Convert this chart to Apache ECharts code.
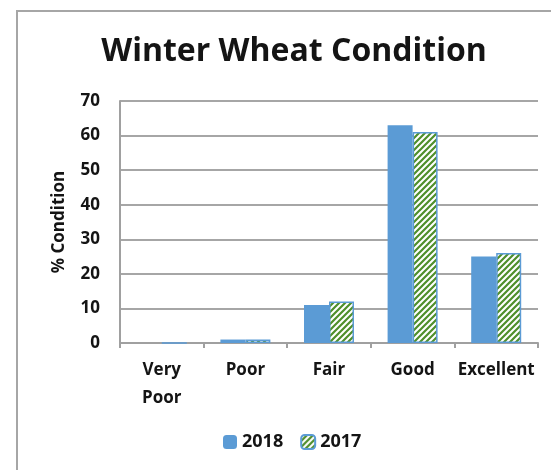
<!DOCTYPE html>
<html><head><meta charset="utf-8">
<script src="https://cdn.jsdelivr.net/npm/echarts@6/dist/echarts.min.js"></script>
<style>html,body{margin:0;padding:0;background:#fff}#c{width:551px;height:470px}</style>
</head><body><div id="c"></div>
<script>
const categories = ['Very\nPoor', 'Poor', 'Fair', 'Good', 'Excellent'];
const values2018 = [0, 1, 11, 63, 25];
const values2017 = [0, 1, 12, 61, 26];
const yTicks = [0, 10, 20, 30, 40, 50, 60, 70];

function makePattern() {
  const cv = document.createElement('canvas');
  cv.width = 6; cv.height = 6;
  const g = cv.getContext('2d');
  g.fillStyle = '#ffffff';
  g.fillRect(0, 0, 6, 6);
  g.strokeStyle = '#4f8f2b';
  g.lineWidth = 2.2;
  g.beginPath();
  g.moveTo(-1, 7); g.lineTo(7, -1);
  g.moveTo(-4, 4); g.lineTo(4, -4);
  g.moveTo(2, 10); g.lineTo(10, 2);
  g.stroke();
  return cv;
}
const pattern = {image: makePattern(), repeat: 'repeat'};
const txt = '#141414';
const ff = 'Open Sans';

const chart = echarts.init(document.getElementById('c'), null, {renderer: 'canvas'});
chart.setOption({
  animation: false,
  graphic: [{type: 'rect', shape: {x: 17, y: 11, width: 700, height: 700},
    style: {fill: 'none', stroke: '#a6a6a6', lineWidth: 2}, z: -1}],
  title: {text: 'Winter Wheat Condition', left: 289, textAlign: 'center', top: 31,
    textStyle: {fontFamily: ff, fontWeight: 'bold', fontSize: 32, color: txt}},
  legend: {bottom: 14, left: 218, itemWidth: 14, itemHeight: 14, itemGap: 17,
    textStyle: {fontFamily: ff, fontWeight: 'bold', fontSize: 18, color: txt},
    data: ['2018', '2017']},
  grid: {left: 120, right: 13, top: 101, bottom: 127},
  xAxis: {type: 'category', data: categories,
    axisLine: {lineStyle: {color: '#a0a0a0', width: 2}},
    axisTick: {show: true, length: 5, lineStyle: {color: '#a0a0a0', width: 2}},
    axisLabel: {fontFamily: ff, fontWeight: 'bold', fontSize: 17, color: txt, margin: 13, lineHeight: 28, interval: 0}},
  yAxis: {type: 'value', min: 0, max: 70, interval: 10,
    name: '% Condition', nameLocation: 'middle', nameGap: 52, nameRotate: 90,
    nameTextStyle: {fontFamily: ff, fontWeight: 'bold', fontSize: 17, color: txt},
    axisLine: {show: true, lineStyle: {color: '#a0a0a0', width: 2}},
    axisTick: {show: false},
    splitLine: {lineStyle: {color: '#a6a6a6', width: 2}},
    axisLabel: {fontFamily: ff, fontWeight: 'bold', fontSize: 17, color: txt, margin: 20,
      formatter: v => yTicks.includes(v) ? String(v) : ''}},
  series: [
    {name: '2018', type: 'bar', data: values2018, barWidth: 25, barGap: '0%',
      itemStyle: {color: '#5b9bd5'}},
    {name: '2017', type: 'bar', data: values2017, barWidth: 25,
      itemStyle: {color: pattern, borderColor: '#5b9bd5', borderWidth: 1.5}}
  ]
});
</script></body></html>
